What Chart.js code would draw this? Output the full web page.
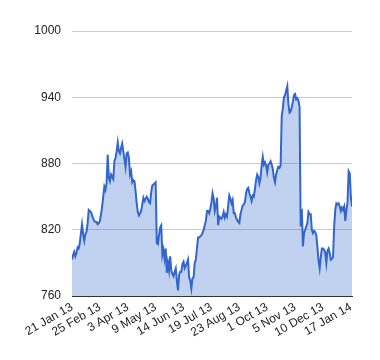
<!DOCTYPE html>
<html>
<head>
<meta charset="utf-8">
<script src="https://cdn.jsdelivr.net/npm/chart.js@4/dist/chart.umd.min.js"></script>
<style>
html,body{margin:0;padding:0;background:#fff;}
#wrap{width:380px;height:360px;position:relative;}
</style>
</head>
<body>
<div id="wrap"><canvas id="c" width="380" height="360"></canvas></div>
<script>
const tickLabels = ["21 Jan 13","25 Feb 13","3 Apr 13","9 May 13","14 Jun 13","19 Jul 13","23 Aug 13","1 Oct 13","5 Nov 13","10 Dec 13","17 Jan 14"];
const labelEvery = 25;
const yTicks = [760, 820, 880, 940, 1000];
const prices = [
793,797,800,796,799,804,803,808,817,825,
816,810,816,818,826,838,837,836,833,830,
828,827,827,825,826,828,834,841,850,859,
856,862,888,867,864,870,868,866,882,885,
891,899,891,889,894,898,891,884,877,889,
890,885,870,873,863,865,864,855,844,836,
833,835,837,843,849,846,848,850,848,845,
844,854,860,861,862,863,808,807,815,822,
824,797,802,794,803,781,790,783,796,783,
780,778,782,785,774,765,779,782,782,789,
791,785,787,790,793,777,774,767,776,777,
790,793,803,813,813,814,815,817,820,824,
828,837,837,835,839,845,853,848,837,841,
849,824,832,831,830,832,836,831,834,832,
842,851,848,844,847,835,835,831,829,827,
826,834,838,842,843,845,853,857,858,853,
850,846,851,850,857,865,870,868,862,867,
878,886,879,881,878,872,879,880,882,879,
875,867,863,870,874,877,876,878,923,930,
940,942,946,950,934,926,927,931,936,942,
943,938,939,937,931,823,839,805,817,820,
823,826,836,834,834,820,817,819,818,815,
804,792,785,795,803,803,802,799,790,801,
803,799,793,794,795,823,838,844,843,844,
841,837,840,838,841,828,838,845,873,871,
849,841
];
const points = prices.map((v, i) => ({x: i, y: v}));
const font = {family: '"Liberation Sans", Arial, sans-serif', size: 12};

new Chart(document.getElementById('c'), {
  type: 'line',
  data: {
    datasets: [{
      data: points,
      borderColor: '#3366cc',
      backgroundColor: 'rgba(51,102,204,0.3)',
      borderWidth: 2,
      fill: 'start',
      pointRadius: 0,
      tension: 0
    }]
  },
  options: {
    responsive: false,
    animation: false,
    devicePixelRatio: 1,
    layout: {padding: {left: 0, right: 28, top: 31, bottom: 0}},
    plugins: {legend: {display: false}, tooltip: {enabled: false}},
    scales: {
      x: {
        type: 'linear',
        min: 0,
        max: prices.length - 1,
        afterBuildTicks: (s) => { s.ticks = tickLabels.map((_, i) => ({value: i * labelEvery})); },
        afterFit: (s) => { s.height = 64; },
        grid: {display: false, drawTicks: false},
        border: {display: true, color: '#333333', width: 1},
        ticks: {
          autoSkip: false,
          minRotation: 30,
          maxRotation: 30,
          padding: 4,
          color: '#222222',
          font: font,
          callback: (v) => tickLabels[Math.round(v / labelEvery)]
        }
      },
      y: {
        min: yTicks[0],
        max: yTicks[yTicks.length - 1],
        afterBuildTicks: (s) => { s.ticks = yTicks.map(v => ({value: v})); },
        afterFit: (s) => { s.width = 72; },
        grid: {color: '#cccccc', drawTicks: false},
        border: {display: false},
        ticks: {padding: 11, color: '#222222', font: font, callback: (v) => String(v)}
      }
    }
  }
});
</script>
</body>
</html>
